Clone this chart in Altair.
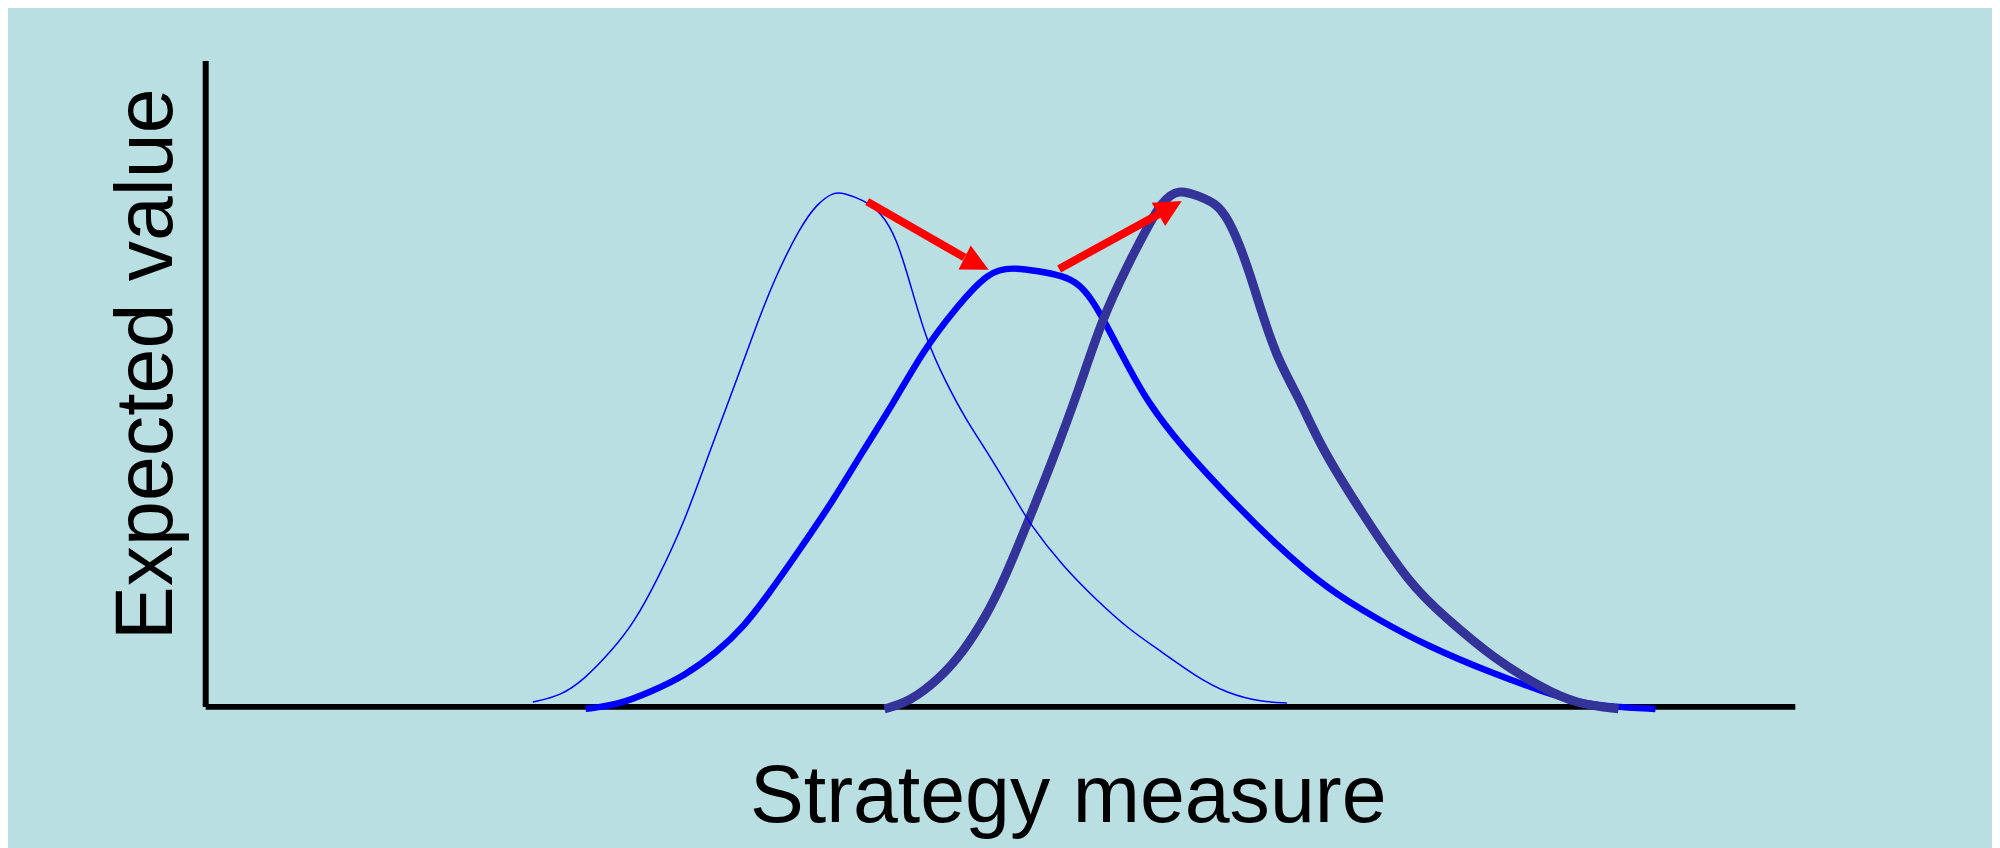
import altair as alt
import pandas as pd

# Thin curve (initial distribution)
thin_x = [20.61, 22.37, 23.87, 25.50, 27.00, 28.45, 30.14, 31.77, 33.27, 34.71, 35.96,
          37.41, 38.47, 39.54, 40.16, 41.42, 42.54, 43.48, 44.30, 45.36, 46.62, 47.87,
          49.12, 51.00, 51.82, 53.95, 56.02, 58.08, 60.21, 62.28, 64.35, 66.48, 68.05]
thin_y = [0.69, 1.62, 4.24, 8.40, 13.03, 19.66, 28.45, 39.71, 49.42, 59.29, 67.00,
          74.09, 77.80, 79.65, 79.49, 78.41, 76.41, 72.55, 65.92, 56.67, 50.04, 44.33,
          39.71, 32.00, 28.45, 21.67, 16.58, 11.95, 8.40, 4.70, 1.93, 0.69, 0.54]

# Medium curve (spread distribution)
mid_x = [23.93, 25.94, 28.01, 30.14, 32.21, 33.90, 35.34, 37.41, 39.54, 41.42, 43.30,
         45.18, 47.24, 49.31, 50.81, 52.26, 53.95, 54.95, 55.83, 56.64, 58.08, 59.34,
         61.34, 64.35, 67.48, 70.61, 73.75, 76.88, 81.08, 84.21, 86.28, 88.41, 91.23]
mid_y = [-0.39, 0.23, 2.24, 4.70, 8.40, 12.41, 17.04, 24.29, 32.00, 39.71, 46.95,
         55.13, 61.76, 67.46, 67.93, 67.46, 66.69, 65.46, 62.84, 59.29, 52.51, 46.95,
         40.48, 32.46, 24.75, 18.12, 13.49, 9.33, 5.01, 2.24, 0.69, -0.08, -0.39]

# Thick curve (shifted distribution)
thick_x = [42.73, 44.30, 46.18, 47.68, 49.12, 50.19, 51.82, 53.32, 54.95, 56.45, 58.08,
           59.15, 60.21, 61.22, 62.47, 63.53, 64.35, 65.41, 66.48, 67.48, 68.98, 70.11,
           72.74, 75.88, 77.94, 81.08, 84.21, 86.28, 88.91]
thick_y = [-0.39, 0.69, 4.24, 8.40, 13.96, 19.20, 28.91, 38.17, 48.96, 60.22, 68.54,
           73.63, 78.26, 80.11, 79.03, 77.95, 75.64, 69.47, 60.83, 53.58, 46.95, 40.48,
           29.99, 18.58, 13.96, 7.32, 2.70, 0.39, -0.39]

# Arrows
arrow_x0 = [41.65, 53.72]
arrow_y0 = [78.15, 67.73]
arrow_x1 = [47.76, 59.98]
arrow_y1 = [69.51, 76.21]
head_x = [48.53, 60.70]
head_y = [68.54, 77.22]
head_angle = [117, 60]

FONT = "Liberation Sans"
xscale = alt.Scale(domain=[0, 100], nice=False, zero=False)
yscale = alt.Scale(domain=[0, 100], nice=False, zero=False)

x_axis = alt.Axis(title="Strategy measure", domain=True, domainColor="black",
                  domainWidth=6, domainCap="butt", ticks=False, labels=False, grid=False,
                  titleFont=FONT, titleFontSize=81, titleFontWeight="normal",
                  titleColor="black", titleX=866, titleY=115.5, titleAlign="center",
                  titleBaseline="alphabetic")
y_axis = alt.Axis(title="Expected value", domain=True, domainColor="black",
                  domainWidth=6, domainCap="butt", ticks=False, labels=False, grid=False,
                  titleFont=FONT, titleFontSize=81, titleFontWeight="normal",
                  titleColor="black", titleAngle=270, titleX=-34, titleY=304.5,
                  titleAlign="center", titleBaseline="alphabetic")

def line_layer(xs, ys, color, width):
    df = pd.DataFrame({"x": xs, "y": ys})
    return alt.Chart(df).mark_line(color=color, strokeWidth=width, interpolate="basis",
                                   strokeCap="butt").encode(
        x=alt.X("x:Q", scale=xscale, axis=x_axis),
        y=alt.Y("y:Q", scale=yscale, axis=y_axis),
    )

mid = line_layer(mid_x, mid_y, "#0000ff", 6.5)
thick = line_layer(thick_x, thick_y, "#333399", 9)
thin = line_layer(thin_x, thin_y, "#0000ff", 1.5)

arrows_df = pd.DataFrame({"x": arrow_x0, "y": arrow_y0, "x1": arrow_x1, "y1": arrow_y1})
shafts = alt.Chart(arrows_df).mark_rule(color="#ff0000", strokeWidth=8, strokeCap="butt").encode(
    x=alt.X("x:Q", scale=xscale, axis=x_axis),
    y=alt.Y("y:Q", scale=yscale, axis=y_axis),
    x2="x1:Q",
    y2="y1:Q",
)

heads_df = pd.DataFrame({"x": head_x, "y": head_y, "angle": head_angle})
heads = alt.Chart(heads_df).mark_point(shape="M0,-1L1,1L-1,1Z", size=729, filled=True,
                                       color="#ff0000", opacity=1, strokeWidth=0).encode(
    x=alt.X("x:Q", scale=xscale, axis=x_axis),
    y=alt.Y("y:Q", scale=yscale, axis=y_axis),
    angle=alt.Angle("angle:Q", scale=None),
)

chart = alt.layer(mid, thick, thin, shafts, heads).properties(
    width=1596,
    height=648.5,
    padding={"left": 198, "top": 51, "right": 198, "bottom": 140.5},
    autosize=alt.AutoSizeParams(type="none"),
).configure(background="#badfe2").configure_view(stroke=None)

chart.save("out.html", embed_options={"renderer": "svg", "actions": False})
